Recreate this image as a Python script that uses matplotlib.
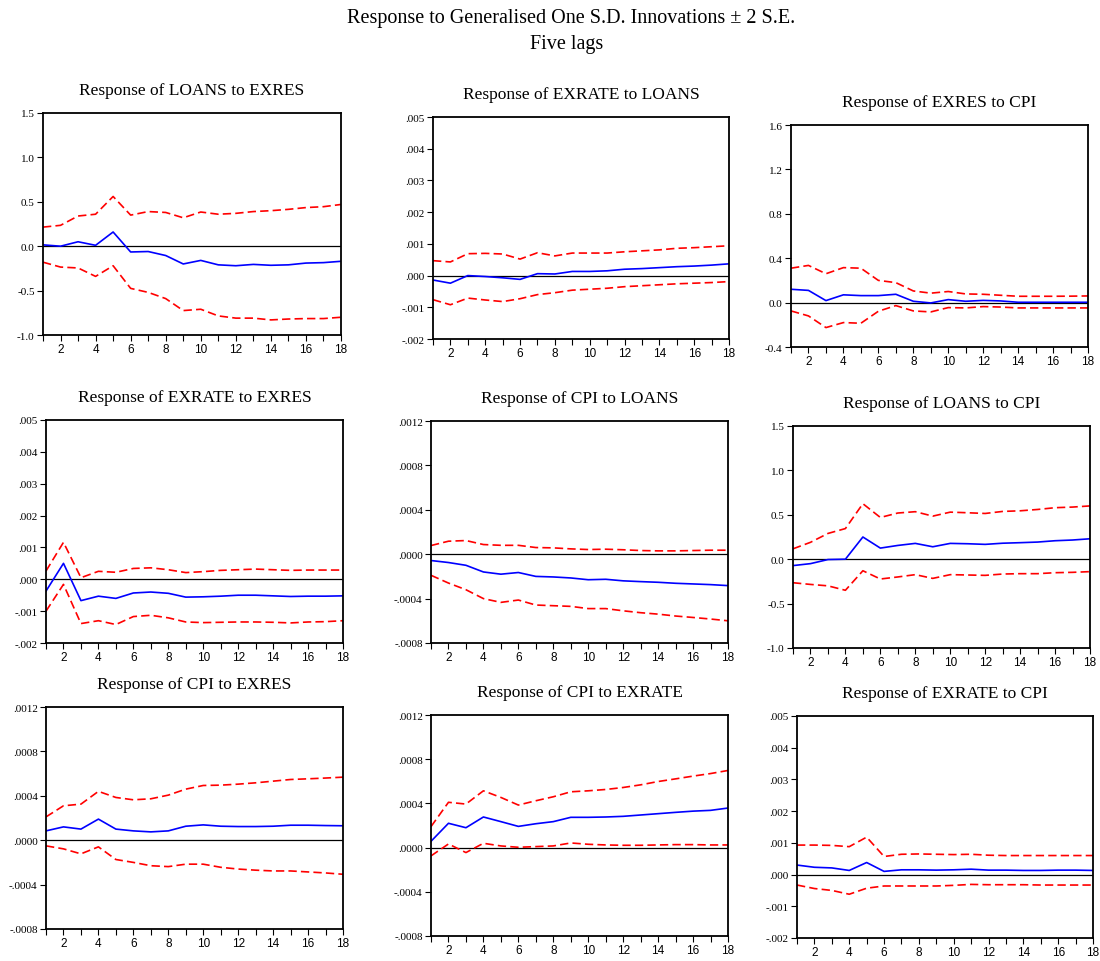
import matplotlib
matplotlib.use("Agg")
from matplotlib import pyplot as plt
from matplotlib.ticker import FixedLocator, FixedFormatter, MultipleLocator

periods = list(range(1, 19))

# LOANS to EXRES
loans_exres = [0.015, 0.0, 0.05, 0.01, 0.16, -0.065, -0.06, -0.105, -0.20, -0.16,
               -0.21, -0.22, -0.205, -0.215, -0.21, -0.19, -0.185, -0.17]
loans_exres_hi = [0.215, 0.235, 0.34, 0.36, 0.56, 0.35, 0.39, 0.38, 0.32, 0.385,
                  0.36, 0.37, 0.39, 0.40, 0.415, 0.435, 0.445, 0.47]
loans_exres_lo = [-0.18, -0.235, -0.245, -0.34, -0.22, -0.475, -0.52, -0.59, -0.725, -0.71,
                  -0.785, -0.81, -0.81, -0.83, -0.82, -0.815, -0.815, -0.80]

# EXRATE to LOANS
exrate_loans = [-0.00014, -0.00024, 0.0, -0.00003, -0.00007, -0.00012, 0.00006, 0.00005, 0.00013,
                0.00013, 0.00015, 0.0002, 0.00022, 0.00025, 0.00028, 0.0003, 0.00033, 0.00037]
exrate_loans_hi = [0.00047, 0.00043, 0.00069, 0.0007, 0.00068, 0.00052, 0.00072, 0.00062, 0.00071,
                   0.00071, 0.00071, 0.00075, 0.00078, 0.00081, 0.00086, 0.00088, 0.00091, 0.00094]
exrate_loans_lo = [-0.00076, -0.00092, -0.00071, -0.00077, -0.00082, -0.00073, -0.0006, -0.00054,
                   -0.00046, -0.00043, -0.0004, -0.00035, -0.00032, -0.00029, -0.00026, -0.00024,
                   -0.00022, -0.00019]

# EXRES to CPI
exres_cpi = [0.12, 0.11, 0.018, 0.07, 0.063, 0.063, 0.075, 0.012, -0.003, 0.027,
             0.012, 0.02, 0.015, 0.003, 0.003, 0.003, 0.003, 0.003]
exres_cpi_hi = [0.31, 0.335, 0.26, 0.315, 0.31, 0.20, 0.18, 0.105, 0.085, 0.10,
                0.078, 0.075, 0.066, 0.057, 0.057, 0.057, 0.058, 0.06]
exres_cpi_lo = [-0.075, -0.12, -0.225, -0.18, -0.186, -0.078, -0.027, -0.075, -0.084, -0.045,
                -0.048, -0.036, -0.04, -0.048, -0.048, -0.048, -0.048, -0.048]

# EXRATE to EXRES
exrate_exres = [-0.00037, 0.0005, -0.00067, -0.00053, -0.0006, -0.00043, -0.0004, -0.00044, -0.00056,
                -0.00055, -0.00053, -0.0005, -0.0005, -0.00052, -0.00054, -0.00053, -0.00053, -0.00052]
exrate_exres_hi = [0.00026, 0.00116, 0.00005, 0.00025, 0.00022, 0.00034, 0.00036, 0.0003, 0.00021,
                   0.00024, 0.00028, 0.0003, 0.00032, 0.0003, 0.00028, 0.00029, 0.00029, 0.00029]
exrate_exres_lo = [-0.001, -0.00016, -0.00139, -0.0013, -0.00142, -0.00117, -0.00113, -0.00121,
                   -0.00134, -0.00136, -0.00135, -0.00134, -0.00134, -0.00135, -0.00137, -0.00134,
                   -0.00133, -0.0013]

# CPI to LOANS
cpi_loans = [-0.000057, -0.000075, -0.0001, -0.00016, -0.00018, -0.000165, -0.0002, -0.000205,
             -0.000214, -0.00023, -0.000226, -0.00024, -0.000247, -0.000253, -0.000262, -0.000268,
             -0.000274, -0.000283]
cpi_loans_hi = [0.000078, 0.000117, 0.000123, 0.000087, 0.00008, 0.00008, 0.00006, 0.000057, 0.000048,
                0.000042, 0.000045, 0.00004, 0.000033, 0.00003, 0.00003, 0.000033, 0.000036, 0.000036]
cpi_loans_lo = [-0.00019, -0.00026, -0.00032, -0.0004, -0.000434, -0.000413, -0.000458, -0.000464,
                -0.00047, -0.00049, -0.00049, -0.00051, -0.000527, -0.00054, -0.000557, -0.00057,
                -0.000584, -0.0006]

# LOANS to CPI
loans_cpi = [-0.072, -0.05, -0.004, 0.0, 0.25, 0.125, 0.155, 0.178, 0.14, 0.178,
             0.174, 0.167, 0.18, 0.186, 0.193, 0.208, 0.216, 0.23]
loans_cpi_hi = [0.117, 0.19, 0.29, 0.345, 0.625, 0.47, 0.52, 0.535, 0.485, 0.53,
                0.523, 0.515, 0.538, 0.545, 0.56, 0.58, 0.587, 0.60]
loans_cpi_lo = [-0.265, -0.284, -0.30, -0.35, -0.13, -0.223, -0.20, -0.174, -0.216, -0.174,
                -0.178, -0.182, -0.167, -0.163, -0.163, -0.152, -0.148, -0.14]

# CPI to EXRES
cpi_exres = [0.000084, 0.00012, 0.0001, 0.00019, 0.0001, 0.000084, 0.000075, 0.000084, 0.000126,
             0.000138, 0.000126, 0.000123, 0.000123, 0.000126, 0.000135, 0.000135, 0.000132, 0.00013]
cpi_exres_hi = [0.00021, 0.00031, 0.000325, 0.00044, 0.000385, 0.000364, 0.000373, 0.000406, 0.00046,
                0.000493, 0.000496, 0.000505, 0.000517, 0.000532, 0.000547, 0.000553, 0.00056, 0.000568]
cpi_exres_lo = [-0.000051, -0.000078, -0.000123, -0.00006, -0.000174, -0.0002, -0.00023, -0.000238,
                -0.000216, -0.000216, -0.000244, -0.00026, -0.00027, -0.000277, -0.000277, -0.000286,
                -0.000295, -0.000307]

# CPI to EXRATE
cpi_exrate = [0.000057, 0.00022, 0.00018, 0.000277, 0.000235, 0.000192, 0.000216, 0.000235, 0.000274,
              0.000274, 0.000277, 0.000283, 0.000295, 0.000307, 0.000319, 0.00033, 0.000337, 0.000358]
cpi_exrate_hi = [0.00019, 0.00041, 0.000394, 0.000514, 0.000454, 0.000385, 0.000424, 0.00046, 0.000505,
                 0.000514, 0.000526, 0.000544, 0.000568, 0.000598, 0.000622, 0.000647, 0.00067, 0.000698]
cpi_exrate_lo = [-0.000075, 0.000033, -0.000045, 0.000039, 0.000015, 0.000003, 0.000009, 0.000015,
                 0.000042, 0.00003, 0.000024, 0.000021, 0.000021, 0.000024, 0.000027, 0.000027,
                 0.000024, 0.000024]

# EXRATE to CPI
exrate_cpi = [0.0003, 0.00023, 0.00021, 0.00013, 0.00038, 0.0001, 0.00015, 0.00015, 0.00014,
              0.00015, 0.00017, 0.00014, 0.00014, 0.00013, 0.00013, 0.00014, 0.00014, 0.00013]
exrate_cpi_hi = [0.00093, 0.00093, 0.00092, 0.00088, 0.00118, 0.00057, 0.00064, 0.00065, 0.00064,
                 0.00063, 0.00064, 0.00061, 0.0006, 0.0006, 0.0006, 0.0006, 0.0006, 0.0006]
exrate_cpi_lo = [-0.00033, -0.00044, -0.0005, -0.00062, -0.00043, -0.00036, -0.00036, -0.00036,
                 -0.00036, -0.00034, -0.00031, -0.00032, -0.00032, -0.00032, -0.00033, -0.00033,
                 -0.00033, -0.00033]

# y-axis ticks and their labels
ticks_big = [-1.0, -0.5, 0.0, 0.5, 1.0, 1.5]
labels_big = ["-1.0", "-0.5", "0.0", "0.5", "1.0", "1.5"]
ticks_cpi = [-0.4, 0.0, 0.4, 0.8, 1.2, 1.6]
labels_cpi = ["-0.4", "0.0", "0.4", "0.8", "1.2", "1.6"]
ticks_rate = [-0.002, -0.001, 0.0, 0.001, 0.002, 0.003, 0.004, 0.005]
labels_rate = ["-.002", "-.001", ".000", ".001", ".002", ".003", ".004", ".005"]
ticks_small = [-0.0008, -0.0004, 0.0, 0.0004, 0.0008, 0.0012]
labels_small = ["-.0008", "-.0004", ".0000", ".0004", ".0008", ".0012"]

# title, series, y ticks, y labels, box in pixels (left, top, right, bottom)
panels = [
    ("Response of LOANS to EXRES", loans_exres, loans_exres_hi, loans_exres_lo,
     ticks_big, labels_big, (43, 114, 341, 336)),
    ("Response of EXRATE to LOANS", exrate_loans, exrate_loans_hi, exrate_loans_lo,
     ticks_rate, labels_rate, (433, 118, 729, 340)),
    ("Response of EXRES to CPI", exres_cpi, exres_cpi_hi, exres_cpi_lo,
     ticks_cpi, labels_cpi, (791, 126, 1088, 348)),
    ("Response of EXRATE to EXRES", exrate_exres, exrate_exres_hi, exrate_exres_lo,
     ticks_rate, labels_rate, (46, 421, 343, 644)),
    ("Response of CPI to LOANS", cpi_loans, cpi_loans_hi, cpi_loans_lo,
     ticks_small, labels_small, (431, 422, 728, 644)),
    ("Response of LOANS to CPI", loans_cpi, loans_cpi_hi, loans_cpi_lo,
     ticks_big, labels_big, (793, 427, 1090, 649)),
    ("Response of CPI to EXRES", cpi_exres, cpi_exres_hi, cpi_exres_lo,
     ticks_small, labels_small, (46, 708, 343, 930)),
    ("Response of CPI to EXRATE", cpi_exrate, cpi_exrate_hi, cpi_exrate_lo,
     ticks_small, labels_small, (431, 716, 728, 937)),
    ("Response of EXRATE to CPI", exrate_cpi, exrate_cpi_hi, exrate_cpi_lo,
     ticks_rate, labels_rate, (797, 717, 1093, 939)),
]

W, H = 1100, 962
fig = plt.figure(figsize=(W / 100, H / 100), dpi=100)
fig.patch.set_facecolor("white")

serif = "Liberation Serif"
sans = "Liberation Sans"

fig.text(571 / W, 1 - 19 / H, "Response to Generalised One S.D. Innovations \u00b1 2 S.E.",
         ha="center", va="center", fontsize=14.5, family=serif)
fig.text(567 / W, 1 - 45 / H, "Five lags", ha="center", va="center",
         fontsize=14.5, family=serif)

for title, mid, hi, lo, yt, yl, (l, t, r, b) in panels:
    ax = fig.add_axes([l / W, 1 - b / H, (r - l) / W, (b - t) / H])
    ax.axhline(0, color="black", lw=0.9)
    ax.plot(periods, mid, color="#0000ff", lw=1.2)
    ax.plot(periods, hi, color="#ff0000", lw=1.2, ls=(0, (5, 2.5)))
    ax.plot(periods, lo, color="#ff0000", lw=1.2, ls=(0, (5, 2.5)))

    ax.set_xlim(1, 18)
    ax.set_ylim(yt[0], yt[-1])
    ax.xaxis.set_major_locator(FixedLocator(list(range(2, 19, 2))))
    ax.xaxis.set_minor_locator(MultipleLocator(1))
    ax.yaxis.set_major_locator(FixedLocator(yt))
    ax.yaxis.set_major_formatter(FixedFormatter(yl))
    ax.tick_params(axis="x", which="both", direction="out", length=4.5, width=0.8,
                   labelsize=8.5, pad=1)
    ax.tick_params(axis="y", direction="out", length=4, width=0.8, labelsize=8, pad=2)
    for lab in ax.get_xticklabels():
        lab.set_family(sans)
    for lab in ax.get_yticklabels():
        lab.set_family(serif)
    for side, sp in ax.spines.items():
        sp.set_linewidth(1.3)
        sp.set_color("black")
    ax.set_title(title, fontsize=12.5, family=serif, pad=14)

fig.savefig("out.png", dpi=100, facecolor="white")
